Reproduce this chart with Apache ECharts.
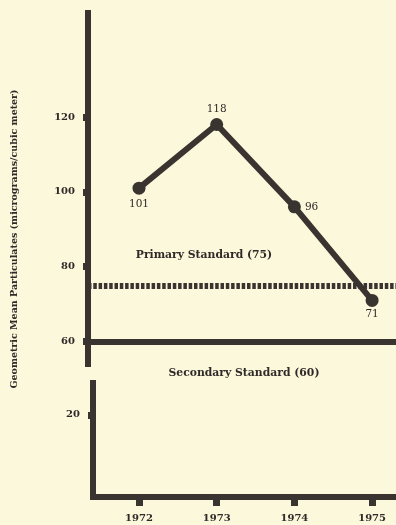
<!DOCTYPE html>
<html>
<head>
<meta charset="utf-8">
<script src="https://cdn.jsdelivr.net/npm/echarts@6/dist/echarts.min.js"></script>
<style>
html,body{margin:0;padding:0;background:#fbf8dc;}
#chart{width:396px;height:525px;}
</style>
</head>
<body>
<div id="chart"></div>
<script>
// ---- data ----
const years = [1972, 1973, 1974, 1975];
const particulates = [101, 118, 96, 71];
const primaryStandard = 75;
const secondaryStandard = 60;
const upperTicks = [60, 80, 100, 120];
const lowerTicks = [20];
const yTitle = 'Geometric Mean Particulates (micrograms/cubic meter)';
const primaryLabel = 'Primary Standard (75)';
const secondaryLabel = 'Secondary Standard (60)';

// ---- style ----
const ink = '#3a3431';
const txt = '#2f2a28';
const serif = '"DejaVu Serif", "Liberation Serif", serif';
const labelFont = { fontFamily: serif, fontWeight: 'bold', fontSize: 10, color: txt };

const chart = echarts.init(document.getElementById('chart'), null, { renderer: 'canvas' });

const labelPlacement = [
  { position: 'bottom', distance: 4 },
  { position: 'top', distance: 3 },
  { position: 'right', distance: 4 },
  { position: 'bottom', distance: 2 }
];

const seriesData = years.map((y, i) => ({
  value: [y, particulates[i]],
  label: Object.assign({ show: true }, labelPlacement[i])
}));

const option = {
  backgroundColor: '#fbf8dc',
  animation: false,
  grid: [
    { left: 88, right: 0, top: 10, height: 357 },
    { left: 93, right: 0, top: 380, height: 117 }
  ],
  xAxis: [
    { gridIndex: 0, type: 'value', min: 1971.3436, max: 1975.3076, show: false },
    {
      gridIndex: 1, type: 'value', min: 1971.408, max: 1975.3076,
      axisLine: { show: true, onZero: false, lineStyle: { color: ink, width: 6, cap: 'square' } },
      axisTick: { show: true, customValues: years, length: 9, lineStyle: { color: ink, width: 7, cap: 'butt' } },
      axisLabel: Object.assign({ customValues: years, margin: 16, formatter: v => String(v) }, labelFont),
      splitLine: { show: false }
    }
  ],
  yAxis: [
    {
      gridIndex: 0, type: 'value', min: 53.2, max: 148.6,
      axisLine: { show: true, onZero: false, lineStyle: { color: ink, width: 6, cap: 'butt' } },
      axisTick: { show: true, customValues: upperTicks, length: 5, lineStyle: { color: ink, width: 7, cap: 'butt' } },
      axisLabel: Object.assign({ customValues: upperTicks, margin: 13 }, labelFont),
      splitLine: { show: false }
    },
    {
      gridIndex: 1, type: 'value', min: 0, max: 28.5,
      axisLine: { show: true, onZero: false, lineStyle: { color: ink, width: 6, cap: 'butt' } },
      axisTick: { show: true, customValues: lowerTicks, length: 5, lineStyle: { color: ink, width: 7, cap: 'butt' } },
      axisLabel: Object.assign({ customValues: lowerTicks, margin: 13 }, labelFont),
      splitLine: { show: false }
    }
  ],
  series: [
    {
      type: 'line',
      xAxisIndex: 0, yAxisIndex: 0,
      data: seriesData,
      symbol: 'circle',
      symbolSize: 13,
      lineStyle: { color: ink, width: 6 },
      itemStyle: { color: ink },
      label: { fontFamily: serif, fontSize: 10.5, fontWeight: 'normal', color: txt },
      z: 5,
      markLine: {
        silent: true,
        symbol: 'none',
        label: { show: false },
        data: [
          { yAxis: primaryStandard, lineStyle: { type: [3.5, 1.8], width: 6, color: ink, cap: 'butt' } },
          { yAxis: secondaryStandard, lineStyle: { type: 'solid', width: 6, color: ink, cap: 'butt' } }
        ]
      }
    }
  ],
  graphic: [
    {
      type: 'text', x: 15, y: 239, rotation: Math.PI / 2,
      style: { text: yTitle, align: 'center', verticalAlign: 'middle',
        font: 'bold 9.5px ' + serif, fill: txt }
    },
    {
      type: 'text', x: 204, y: 255,
      style: { text: primaryLabel, align: 'center', verticalAlign: 'middle',
        font: 'bold 10.8px ' + serif, fill: txt }
    },
    {
      type: 'text', x: 244, y: 373,
      style: { text: secondaryLabel, align: 'center', verticalAlign: 'middle',
        font: 'bold 10.8px ' + serif, fill: txt }
    }
  ]
};
chart.setOption(option);
</script>
</body>
</html>
